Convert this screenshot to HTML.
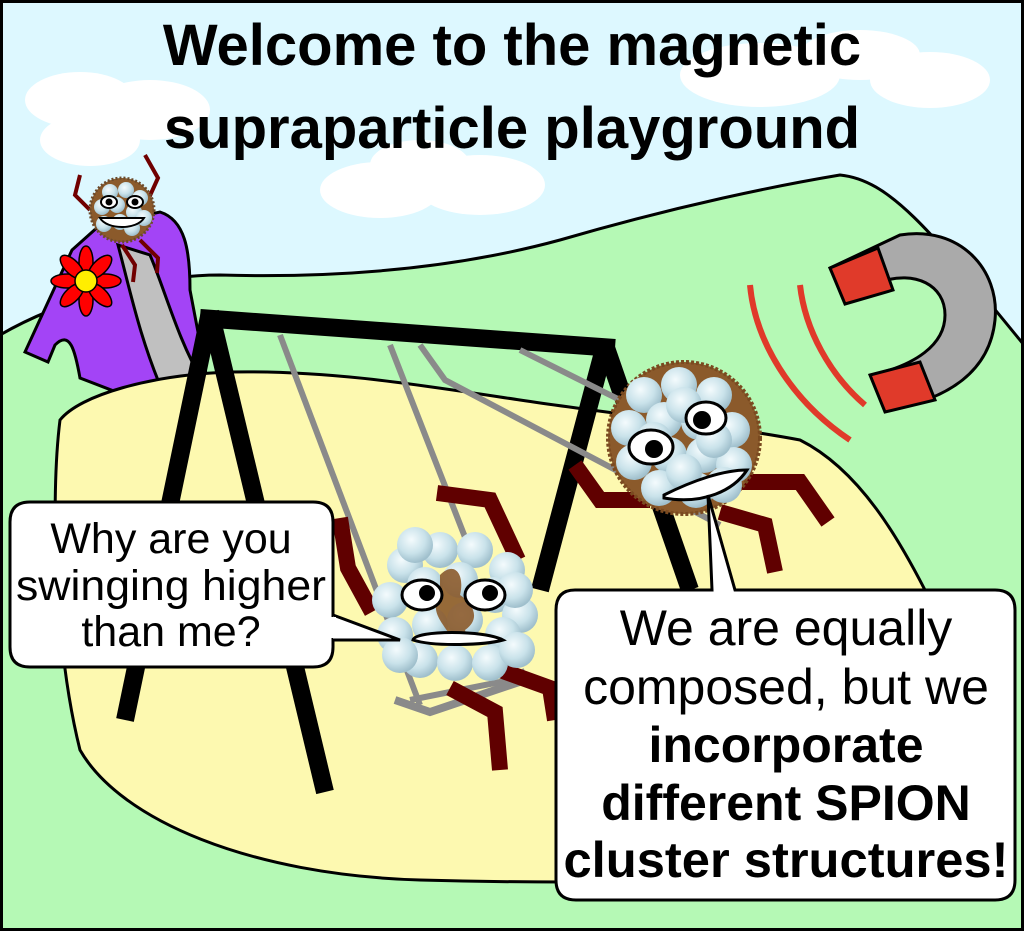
<!DOCTYPE html>
<html><head><meta charset="utf-8"><style>
html,body{margin:0;padding:0;background:#fff}
svg{display:block}
text{font-family:"Liberation Sans",sans-serif}
</style></head><body>
<svg width="1024" height="931" viewBox="0 0 1024 931" xmlns="http://www.w3.org/2000/svg">
<defs>
<radialGradient id="bg" cx="0.4" cy="0.35" r="0.65">
<stop offset="0" stop-color="#f4fbfd"/><stop offset="0.6" stop-color="#c9e2ea"/><stop offset="1" stop-color="#9fbfcc"/>
</radialGradient>
<g id="ball"><circle r="18" fill="url(#bg)"/></g>
<g id="sb"><circle r="8" fill="url(#bg)"/></g>
</defs>
<rect x="0" y="0" width="1024" height="931" fill="#ddf8ff"/>
<g fill="#fff">
<ellipse cx="80" cy="100" rx="55" ry="28"/><ellipse cx="150" cy="110" rx="60" ry="30"/><ellipse cx="90" cy="140" rx="50" ry="26"/>
<ellipse cx="380" cy="190" rx="60" ry="28"/><ellipse cx="480" cy="185" rx="65" ry="30"/><ellipse cx="420" cy="165" rx="50" ry="25"/>
<ellipse cx="760" cy="75" rx="80" ry="32"/><ellipse cx="860" cy="55" rx="60" ry="25"/><ellipse cx="930" cy="80" rx="60" ry="28"/>
</g>
<path d="M0,335 C60,300 150,275 220,275 C330,278 450,270 560,240 C680,205 780,185 840,175 C890,180 930,230 1024,345 L1024,931 L0,931 Z" fill="#b5f9b5" stroke="#000" stroke-width="3"/>
<path d="M25,352 L72,250 L100,225 L160,212 C185,220 190,250 190,290 L210,395 L232,412 L210,428 L80,378 C75,350 70,330 55,345 L48,362 Z" fill="#a344f6" stroke="#000" stroke-width="3"/>
<path d="M118,245 L150,255 C165,290 178,340 202,380 L228,412 L205,422 L165,397 C140,340 130,290 118,245 Z" fill="#c0c0c0" stroke="#000" stroke-width="3"/>
<g fill="#ff0000" stroke="#000" stroke-width="1.5">
<ellipse cx="86" cy="262" rx="7" ry="16"/><ellipse cx="86" cy="300" rx="7" ry="16"/><ellipse cx="67" cy="281" rx="16" ry="7"/><ellipse cx="105" cy="281" rx="16" ry="7"/>
<ellipse cx="72" cy="267" rx="7" ry="15" transform="rotate(-45 72 267)"/><ellipse cx="100" cy="295" rx="7" ry="15" transform="rotate(-45 100 295)"/>
<ellipse cx="100" cy="267" rx="7" ry="15" transform="rotate(45 100 267)"/><ellipse cx="72" cy="295" rx="7" ry="15" transform="rotate(45 72 295)"/>
</g>
<circle cx="86" cy="281" r="11" fill="#ffee00" stroke="#000" stroke-width="1.5"/>
<g stroke="#700000" stroke-width="4" fill="none">
<polyline points="80,175 75,195 90,210"/><polyline points="145,155 158,178 148,200"/>
<polyline points="122,245 135,265 133,282"/><polyline points="140,240 158,258 157,273"/>
</g>
<circle cx="122" cy="210" r="32" fill="#8b5a2b" stroke="#6b4a2b" stroke-width="3" stroke-dasharray="2 2"/>
<g transform="translate(122,210)">
<use href="#sb" x="-12" y="-18"/><use href="#sb" x="4" y="-20"/><use href="#sb" x="18" y="-12"/><use href="#sb" x="-20" y="-3"/><use href="#sb" x="-5" y="-5"/><use href="#sb" x="12" y="2"/><use href="#sb" x="22" y="8"/><use href="#sb" x="-18" y="14"/><use href="#sb" x="-2" y="12"/><use href="#sb" x="10" y="18"/>
<ellipse cx="-13" cy="-8" rx="8" ry="6" fill="#fff" stroke="#000" stroke-width="2"/><circle cx="-13" cy="-8" r="3.5"/>
<ellipse cx="13" cy="-8" rx="8" ry="6" fill="#fff" stroke="#000" stroke-width="2"/><circle cx="13" cy="-8" r="3.5"/>
<path d="M-22,8 L22,8 C15,20 -15,20 -22,8 Z" fill="#fff" stroke="#000" stroke-width="2"/>
</g>
<path d="M60,420 C80,395 150,375 230,372 C330,370 420,385 520,400 C620,415 720,425 800,440 C860,470 900,540 930,600 L920,870 C800,880 600,885 420,880 C250,875 120,820 80,750 C55,650 50,500 60,420 Z" fill="#fdf9b0" stroke="#000" stroke-width="3"/>
<g stroke="#000" stroke-width="18" fill="none">
<line x1="210" y1="312" x2="125" y2="720"/><line x1="210" y1="312" x2="325" y2="792"/>
<line x1="605" y1="345" x2="540" y2="590"/><line x1="605" y1="345" x2="690" y2="590"/>
<line x1="200" y1="318" x2="615" y2="348"/>
</g>
<g stroke="#e03a2a" stroke-width="6" fill="none">
<path d="M750,285 C755,340 790,400 850,440"/><path d="M800,285 C805,330 830,375 865,405"/>
</g>
<path d="M830,268 L900,235 C960,225 1000,270 995,320 C990,370 950,400 885,410 L872,375 C915,365 945,345 945,315 C945,285 915,270 880,282 L845,300 Z" fill="#aaaaaa" stroke="#000" stroke-width="3"/>
<path d="M830,268 L878,248 L893,290 L845,304 Z" fill="#e03a2a" stroke="#000" stroke-width="3"/>
<path d="M870,375 L920,362 L935,400 L885,412 Z" fill="#e03a2a" stroke="#000" stroke-width="3"/>
<g stroke="#8a8a8a" stroke-width="6" fill="none">
<line x1="280" y1="335" x2="420" y2="705"/><line x1="390" y1="345" x2="470" y2="550"/>
<polyline points="420,345 445,380 720,525"/><line x1="520" y1="350" x2="630" y2="405"/>
<polyline points="410,700 510,680"/>
</g>
<path d="M395,700 L430,712 L525,680 L520,670" stroke="#8a8a8a" stroke-width="8" fill="none"/>
<g stroke="#600000" stroke-width="16" fill="none">
<polyline points="437,493 490,500 518,560"/><polyline points="340,518 348,568 372,612"/>
<polyline points="450,688 495,712 500,770"/><polyline points="500,670 550,688 555,720"/>
<polyline points="575,465 600,500 650,500"/><polyline points="740,482 800,482 828,522"/><polyline points="720,512 765,525 775,572"/>
</g>
<g transform="translate(455,605)">
<use href="#ball" x="-50" y="-40"/><use href="#ball" x="-15" y="-55"/><use href="#ball" x="20" y="-55"/><use href="#ball" x="52" y="-35"/>
<use href="#ball" x="-65" y="-5"/><use href="#ball" x="-30" y="-20"/><use href="#ball" x="5" y="-25"/><use href="#ball" x="40" y="-10"/><use href="#ball" x="65" y="10"/>
<use href="#ball" x="-60" y="30"/><use href="#ball" x="-25" y="20"/><use href="#ball" x="10" y="15"/><use href="#ball" x="48" y="30"/>
<use href="#ball" x="-35" y="55"/><use href="#ball" x="0" y="58"/><use href="#ball" x="35" y="58"/>
<use href="#ball" x="-40" y="-60"/><use href="#ball" x="60" y="-15"/><use href="#ball" x="-55" y="50"/><use href="#ball" x="62" y="45"/>
<path d="M-15,-30 C0,-45 10,-30 5,-10 C20,0 25,15 10,25 C15,40 0,45 -5,30 C-15,15 -25,5 -15,-10 Z" fill="#8b5a2b" opacity="0.9"/>
<ellipse cx="-33" cy="-10" rx="20" ry="15" fill="#fff" stroke="#000" stroke-width="3"/><circle cx="-28" cy="-12" r="8"/>
<ellipse cx="30" cy="-10" rx="20" ry="15" fill="#fff" stroke="#000" stroke-width="3"/><circle cx="35" cy="-12" r="8"/>
<path d="M-42,35 C-40,25 30,25 48,35 C30,40 -20,42 -42,35 Z" fill="#fff" stroke="#000" stroke-width="3"/>
</g>
<circle cx="684" cy="438" r="76" fill="#8b5a2b" stroke="#7a4a20" stroke-width="4" stroke-dasharray="3 2"/>
<g transform="translate(684,440)">
<use href="#ball" x="-40" y="-45"/><use href="#ball" x="-5" y="-55"/><use href="#ball" x="30" y="-45"/>
<use href="#ball" x="-55" y="-12"/><use href="#ball" x="-20" y="-20"/><use href="#ball" x="15" y="-18"/><use href="#ball" x="48" y="-10"/>
<use href="#ball" x="-50" y="22"/><use href="#ball" x="-15" y="15"/><use href="#ball" x="20" y="15"/><use href="#ball" x="50" y="25"/>
<use href="#ball" x="-25" y="48"/><use href="#ball" x="12" y="50"/><use href="#ball" x="40" y="45"/>
<use href="#ball" x="-30" y="0"/><use href="#ball" x="0" y="-35"/><use href="#ball" x="30" y="0"/><use href="#ball" x="0" y="32"/>
<ellipse cx="-33" cy="7" rx="22" ry="17" fill="#fff" stroke="#000" stroke-width="3"/><circle cx="-30" cy="9" r="9"/>
<ellipse cx="22" cy="-22" rx="20" ry="16" fill="#fff" stroke="#000" stroke-width="3"/><circle cx="18" cy="-20" r="9"/>
<path d="M-20,55 C10,40 40,30 63,30 C50,50 20,65 -20,58 Z" fill="#fff" stroke="#000" stroke-width="3"/>
</g>
<path d="M30,502 L313,502 Q333,502 333,522 L333,647 Q333,667 313,667 L30,667 Q10,667 10,647 L10,522 Q10,502 30,502 Z" fill="#fff" stroke="#000" stroke-width="3"/>
<path d="M333,615 L400,640 L333,640" fill="#fff" stroke="#000" stroke-width="3"/>
<rect x="330" y="617" width="6" height="21" fill="#fff"/>
<text x="171" y="553" font-size="43" text-anchor="middle">Why are you</text>
<text x="171" y="600" font-size="43" text-anchor="middle" textLength="310" lengthAdjust="spacingAndGlyphs">swinging higher</text>
<text x="171" y="646" font-size="43" text-anchor="middle">than me?</text>
<path d="M708,495 L712,590 L575,590 Q556,590 556,610 L556,880 Q556,900 576,900 L995,900 Q1015,900 1015,880 L1015,610 Q1015,590 995,590 L735,590 Z" fill="#fff" stroke="#000" stroke-width="3"/>
<text x="786" y="645" font-size="50" text-anchor="middle">We are equally</text>
<text x="786" y="704" font-size="50" text-anchor="middle">composed, but we</text>
<text x="786" y="762" font-size="50" text-anchor="middle" font-weight="bold">incorporate</text>
<text x="786" y="820" font-size="50" text-anchor="middle" font-weight="bold">different SPION</text>
<text x="786" y="877" font-size="50" text-anchor="middle" font-weight="bold" textLength="445" lengthAdjust="spacingAndGlyphs">cluster structures!</text>
<text x="512" y="65" font-size="58" font-weight="bold" text-anchor="middle">Welcome to the magnetic</text>
<text x="512" y="148" font-size="58" font-weight="bold" text-anchor="middle">supraparticle playground</text>
<rect x="1.5" y="1.5" width="1021" height="928" fill="none" stroke="#000" stroke-width="3"/>
</svg>
</body></html>
